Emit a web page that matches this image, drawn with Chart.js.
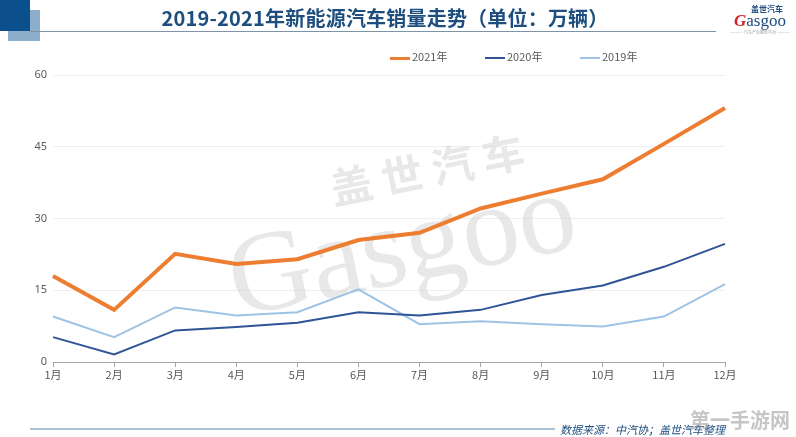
<!DOCTYPE html>
<html>
<head>
<meta charset="utf-8">
<script src="https://cdn.jsdelivr.net/npm/chart.js@4.4.1/dist/chart.umd.min.js"></script>
<style>
  html, body { margin: 0; padding: 0; background: #fff; }
  body { width: 796px; height: 437px; position: relative; overflow: hidden; font-family: "Noto Sans CJK SC", "Noto Sans", sans-serif; }
  #wrap { position: absolute; left: 0; top: 0; width: 796px; height: 437px; }
  .sq1 { position: absolute; left: 8px; top: 10px; width: 32px; height: 31px; background: #8caecb; }
  .sq2 { position: absolute; left: 0; top: 0; width: 30px; height: 31px; background: #0b4f8c; }
  .hline { position: absolute; left: 30px; top: 31px; width: 686px; height: 1px; background: #7c93a8; }
  .title { position: absolute; left: 0; width: 770px; top: 3px; text-align: center; font-size: 20px; font-weight: bold; color: #1d4e7e; letter-spacing: 0.2px; }
  .logo { position: absolute; left: 727px; top: 4px; width: 66px; text-align: center; color: #1d4e7e; }
  .logo .cn { font-size: 8px; font-weight: bold; line-height: 9px; margin-left: 14px; }
  .logo .en { font-family: "Liberation Serif", serif; font-size: 17px; line-height: 16px; }
  .logo .en b { color: #d2232a; font-style: italic; }
  .logo .sub { font-size: 4px; color: #999; line-height: 6px; white-space: nowrap; }
  .legend { position: absolute; top: 48px; font-size: 11px; color: #595959; white-space: nowrap; }
  .legend span.sw { display: inline-block; width: 20px; vertical-align: middle; margin-right: 2px; }
  .bline { position: absolute; left: 30px; top: 428px; width: 525px; height: 2px; background: #a9c1d3; }
  .src { position: absolute; left: 560px; top: 421px; font-size: 11px; font-style: italic; color: #1d4e7e; white-space: nowrap; }
  .wm { position: absolute; left: 690px; top: 405px; font-size: 20px; font-weight: bold; color: rgba(150,150,150,0.55); white-space: nowrap; }
</style>
</head>
<body>
<div id="wrap"><canvas id="salesChart" width="796" height="437"></canvas></div>
<div class="sq1"></div>
<div class="sq2"></div>
<div class="hline"></div>
<div class="title">2019-2021年新能源汽车销量走势（单位：万辆）</div>
<div class="logo">
  <div class="cn">盖世汽车</div>
  <div class="en"><b>G</b>asgoo</div>
  <div class="sub">———— 汽车产业服务平台 ————</div>
</div>
<div id="legend"></div>
<div class="bline"></div>
<div class="src">数据来源：中汽协；盖世汽车整理</div>
<div class="wm">第一手游网</div>

<script>
// Monthly sales, unit: 10k vehicles
const months = ['1月', '2月', '3月', '4月', '5月', '6月', '7月', '8月', '9月', '10月', '11月', '12月'];
const sales2021 = [18.0, 10.9, 22.6, 20.5, 21.5, 25.5, 27.0, 32.1, 35.2, 38.2, 45.6, 53.1];
const sales2020 = [5.2, 1.6, 6.6, 7.3, 8.2, 10.4, 9.7, 10.9, 14.0, 16.0, 19.9, 24.7];
const sales2019 = [9.5, 5.2, 11.4, 9.7, 10.4, 15.2, 7.9, 8.5, 7.9, 7.4, 9.5, 16.3];
const yTicks = [0, 15, 30, 45, 60];

const seriesNames = ['2021年', '2020年', '2019年'];
const seriesColors = ['#ed7d31', '#2f5597', '#9dc3e6'];
const seriesWidths = [4, 2, 2];
const legendX = [390, 485, 580];

// Simple html legend, placed like the original
const legendBox = document.getElementById('legend');
seriesNames.forEach((name, i) => {
    const item = document.createElement('div');
    item.className = 'legend';
    item.style.left = legendX[i] + 'px';
    item.innerHTML = `<span class="sw" style="height:${seriesWidths[i] === 4 ? 3 : 2}px;background:${seriesColors[i]}"></span>${name}`;
    legendBox.appendChild(item);
});

// Gray watermark behind the lines
const watermark = {
    id: 'watermark',
    beforeDatasetsDraw(chart) {
        const ctx = chart.ctx;
        ctx.save();
        ctx.fillStyle = 'rgba(210,210,210,0.5)';
        ctx.translate(405, 262);
        ctx.rotate(-0.2);
        ctx.font = '115px "Liberation Serif", serif';
        ctx.textAlign = 'center';
        ctx.textBaseline = 'alphabetic';
        ctx.fillText('Gasgoo', 0, 20);
        ctx.font = 'bold 42px "Noto Sans CJK SC", sans-serif';
        ctx.fillText('盖 世 汽 车', 40, -70);
        ctx.restore();
    }
};

const ctx = document.getElementById('salesChart').getContext('2d');

new Chart(ctx, {
    type: 'line',
    data: {
        labels: months,
        datasets: [sales2021, sales2020, sales2019].map((data, i) => ({
            label: seriesNames[i],
            data: data,
            borderColor: seriesColors[i],
            backgroundColor: seriesColors[i],
            borderWidth: seriesWidths[i],
            pointRadius: 0,
            tension: 0,
            fill: false
        }))
    },
    options: {
        responsive: false,
        animation: false,
        layout: { padding: { left: 0, right: 71, top: 75, bottom: 0 } },
        plugins: {
            legend: { display: false },
            tooltip: { enabled: false }
        },
        scales: {
            x: {
                offset: false,
                afterFit: (scale) => { scale.height = 75; },
                grid: { drawOnChartArea: false, drawTicks: true, tickLength: 5, color: '#a6a6a6' },
                border: { color: '#a6a6a6', width: 1 },
                ticks: { color: '#595959', font: { size: 11, family: '"Noto Sans CJK SC", sans-serif' }, padding: 1, maxRotation: 0, autoSkip: false }
            },
            y: {
                min: 0,
                max: 60,
                afterFit: (scale) => { scale.width = 53; },
                afterBuildTicks: (scale) => { scale.ticks = yTicks.map(v => ({ value: v })); },
                grid: { color: '#efefef', drawTicks: false },
                border: { display: false },
                ticks: { color: '#595959', font: { size: 11, family: '"Noto Sans", sans-serif' }, padding: 6 }
            }
        }
    },
    plugins: [watermark]
});
</script>
</body>
</html>
